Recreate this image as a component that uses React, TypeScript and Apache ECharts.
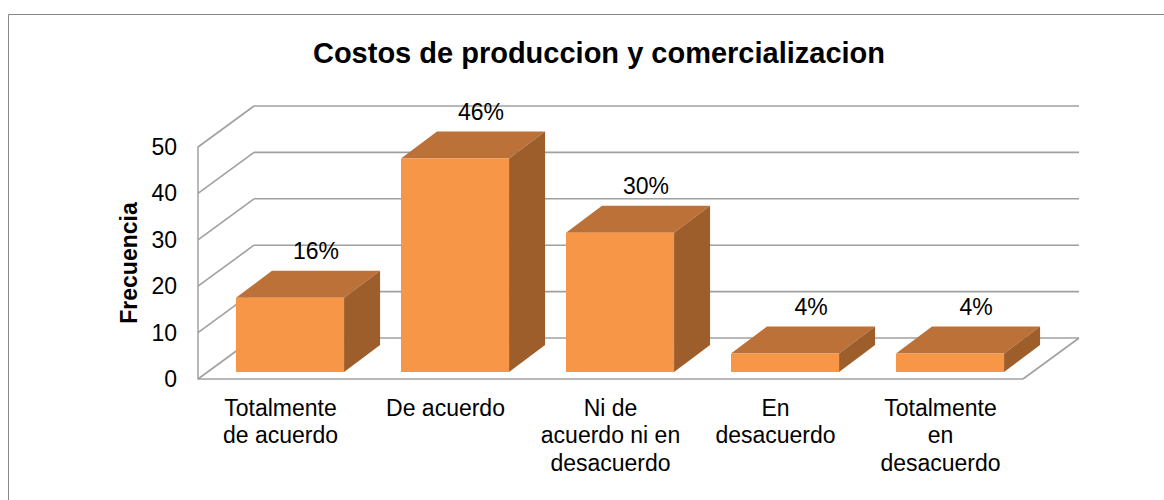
import React, { useEffect, useRef } from "react";
import * as echarts from "echarts";

const categories = [
  "Totalmente\nde acuerdo",
  "De acuerdo",
  "Ni de\nacuerdo ni en\ndesacuerdo",
  "En\ndesacuerdo",
  "Totalmente\nen\ndesacuerdo",
];
const frecuencia = [16, 46, 30, 4, 4];
const porcentajes = ["16%", "46%", "30%", "4%", "4%"];
const yTicks = [0, 10, 20, 30, 40, 50];

const FONT = "'Liberation Sans', Arial, sans-serif";
const WALL_D = [56, -41];
const BAR_T0 = 0.17;
const BAR_D = [36, -27];
const GRID_COLOR = "#A0A0A0";

export default function App() {
  const ref = useRef<HTMLDivElement>(null);
  useEffect(() => {
    if (!ref.current) return;
    const chart = echarts.init(ref.current, null, { renderer: "svg" });
    const option: any = {
      animation: false,
      backgroundColor: "#ffffff",
      title: {
        text: "Costos de produccion y comercializacion",
        left: 594,
        top: 33,
        textAlign: "center",
        textStyle: { fontFamily: FONT, fontSize: 29, fontWeight: "bold", color: "#000" },
      },
      graphic: [
        {
          type: "rect",
          shape: { x: 8.5, y: 14.5, width: 1200, height: 600 },
          style: { fill: "none", stroke: "#878787", lineWidth: 1 },
          silent: true,
        },
      ],
      grid: { left: 198, top: 147, width: 825, height: 232 },
      xAxis: {
        type: "category",
        data: categories,
        axisLine: { show: false },
        axisTick: { show: false },
        axisLabel: {
          interval: 0,
          margin: 15,
          fontFamily: FONT,
          fontSize: 23,
          lineHeight: 27.5,
          color: "#000",
        },
      },
      yAxis: {
        type: "value",
        min: 0,
        max: 50,
        interval: 10,
        name: "Frecuencia",
        nameLocation: "middle",
        nameGap: 56,
        nameTextStyle: { fontFamily: FONT, fontSize: 23, fontWeight: "bold", color: "#000" },
        axisLine: { show: true, lineStyle: { color: GRID_COLOR, width: 1.5 } },
        axisTick: { show: false },
        splitLine: { show: false },
        axisLabel: { margin: 21, fontFamily: FONT, fontSize: 23, color: "#000" },
      },
      series: [
        {
          type: "custom",
          name: "walls",
          z: 1,
          silent: true,
          data: yTicks.map((v) => [0, v]),
          renderItem: (params: any, api: any) => {
            const cs = params.coordSys;
            const v = api.value(1);
            const y = api.coord([0, v])[1];
            const x0 = cs.x;
            const x1 = cs.x + cs.width;
            const [dx, dy] = WALL_D;
            const ls = { stroke: GRID_COLOR, lineWidth: 1.6, fill: "none" };
            const children: any[] = [
              { type: "line", shape: { x1: x0, y1: y, x2: x0 + dx, y2: y + dy }, style: ls },
              { type: "line", shape: { x1: x0 + dx, y1: y + dy, x2: x1 + dx, y2: y + dy }, style: ls },
            ];
            if (v === 0) {
              children.push({ type: "line", shape: { x1: x0, y1: y, x2: x1, y2: y }, style: ls });
              children.push({ type: "line", shape: { x1: x1, y1: y, x2: x1 + dx, y2: y + dy }, style: ls });
            }
            return { type: "group", children };
          },
        },
        {
          type: "custom",
          name: "Frecuencia",
          z: 5,
          data: frecuencia.map((v, i) => [i, v]),
          renderItem: (params: any, api: any) => {
            const i = api.value(0);
            const v = api.value(1);
            const [cx, y0] = api.coord([i, 0]);
            const yv = api.coord([i, v])[1];
            const band = api.size([1, 0])[0];
            const w = band * 0.655;
            const ox = WALL_D[0] * BAR_T0;
            const oy = WALL_D[1] * BAR_T0;
            const fx = cx - w / 2 + ox;
            const yT = yv + oy;
            const yB = y0 + oy;
            const [bx, by] = BAR_D;
            return {
              type: "group",
              children: [
                {
                  type: "polygon",
                  shape: { points: [[fx, yT], [fx + w, yT], [fx + w + bx, yT + by], [fx + bx, yT + by]] },
                  style: { fill: "#BB7137" },
                },
                {
                  type: "polygon",
                  shape: { points: [[fx + w, yT], [fx + w, yB], [fx + w + bx, yB + by], [fx + w + bx, yT + by]] },
                  style: { fill: "#9D5E2C" },
                },
                {
                  type: "rect",
                  shape: { x: fx, y: yT, width: w, height: yB - yT },
                  style: { fill: "#F79646" },
                },
                {
                  type: "text",
                  x: cx + ox + 26,
                  y: yT + by - 8,
                  style: {
                    text: porcentajes[i],
                    fontFamily: FONT,
                    fontSize: 23,
                    fill: "#000",
                    align: "center",
                    verticalAlign: "bottom",
                  },
                },
              ],
            };
          },
        },
      ],
    };
    chart.setOption(option);
    return () => chart.dispose();
  }, []);
  return (
    <div
      ref={ref}
      style={{ position: "fixed", left: 0, top: 0, width: 1164, height: 500 }}
    />
  );
}
